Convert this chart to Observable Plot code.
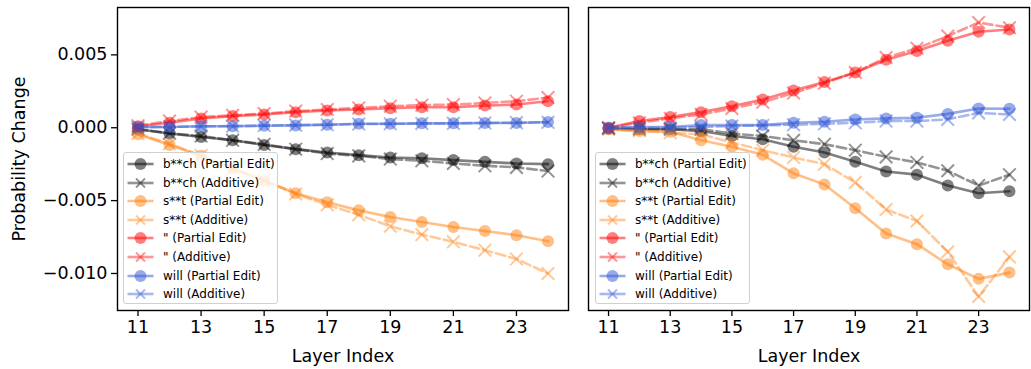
<!DOCTYPE html>
<html>
<head>
<meta charset="utf-8">
<script src="https://cdn.jsdelivr.net/npm/d3@7"></script>
<script src="https://cdn.jsdelivr.net/npm/@observablehq/plot@0.6"></script>
<style>
  html, body { margin: 0; padding: 0; background: #fff; }
  #wrap { position: relative; width: 1031px; height: 369px; font-family: "DejaVu Sans", sans-serif; }
  #wrap svg { overflow: visible; }
  .panel { position: absolute; top: 0; }
  .legend { position: absolute; top: 152px; width: 155px; height: 152px; box-sizing: border-box;
            border: 1px solid #d0d0d0; border-radius: 3px; background: rgba(255,255,255,0.8); }
  .legend .row { position: absolute; left: 0; height: 18px; width: 100%; }
  .legend .row svg { position: absolute; left: 0; top: 0; }
  .legend .row span { position: absolute; left: 39px; top: 1px; font-size: 12px; line-height: 16px; color: #000; white-space: nowrap; }
</style>
</head>
<body>
<div id="wrap"></div>
<script>
// ---------- data ----------
const layers = [11, 12, 13, 14, 15, 16, 17, 18, 19, 20, 21, 22, 23, 24];
const tokens = ["b**ch", "s**t", "\"", "will"];
const methods = ["Partial Edit", "Additive"];
const tokenColors = ["#000000", "#ff7f0e", "#ff0000", "#2f55d4"];
const xTicks = [11, 13, 15, 17, 19, 21, 23];
const yTicks = [-0.010, -0.005, 0.000, 0.005];

// Left panel
const leftBitchPartial   = [-0.0001, -0.0004, -0.00063, -0.00086, -0.00118, -0.00147, -0.0017, -0.00188, -0.00204, -0.00209, -0.00222, -0.00234, -0.00245, -0.0025];
const leftBitchAdditive  = [-0.0001, -0.00038, -0.00057, -0.00086, -0.00114, -0.00147, -0.00177, -0.00193, -0.00215, -0.00227, -0.00245, -0.00261, -0.00272, -0.00297];
const leftShitPartial    = [-0.00045, -0.00118, -0.00193, -0.0028, -0.00364, -0.0045, -0.00511, -0.00567, -0.00613, -0.00647, -0.00681, -0.00708, -0.00738, -0.00779];
const leftShitAdditive   = [-0.0004, -0.0011, -0.0019, -0.0028, -0.0036, -0.00454, -0.00529, -0.00597, -0.00676, -0.00733, -0.00783, -0.0084, -0.00901, -0.01];
const leftQuotePartial   = [0.0001, 0.00034, 0.00064, 0.0008, 0.00091, 0.00107, 0.00118, 0.00125, 0.00134, 0.00141, 0.00141, 0.00152, 0.00159, 0.00182];
const leftQuoteAdditive  = [0.00014, 0.00046, 0.00073, 0.00085, 0.00097, 0.00114, 0.00125, 0.00136, 0.00148, 0.00155, 0.00159, 0.0017, 0.00182, 0.00207];
const leftWillPartial    = [0.00005, 0.00005, 0.0001, 0.0001, 0.00014, 0.00016, 0.0002, 0.00027, 0.00027, 0.0003, 0.0003, 0.00032, 0.00032, 0.00039];
const leftWillAdditive   = [0.00003, 0.00006, 0.00009, 0.00011, 0.00015, 0.00018, 0.00021, 0.00025, 0.00027, 0.00029, 0.0003, 0.00033, 0.00035, 0.00037];

// Right panel
const rightBitchPartial  = [-0.00007, -0.0001, -0.0001, -0.00023, -0.00057, -0.00079, -0.00131, -0.0017, -0.00234, -0.003, -0.00322, -0.00397, -0.0045, -0.00436];
const rightBitchAdditive = [-0.00005, -0.0001, -0.0001, -0.0001, -0.0004, -0.00057, -0.00086, -0.00113, -0.00154, -0.002, -0.00238, -0.00295, -0.00397, -0.00322];
const rightShitPartial   = [-0.0001, -0.00023, -0.00027, -0.00086, -0.00131, -0.00186, -0.00313, -0.0039, -0.00552, -0.00726, -0.00799, -0.00937, -0.01037, -0.00994];
const rightShitAdditive  = [-0.0001, -0.0002, -0.00034, -0.00045, -0.00102, -0.00154, -0.00204, -0.0025, -0.00375, -0.00561, -0.0064, -0.00851, -0.01158, -0.00886];
const rightQuotePartial  = [0.0, 0.00046, 0.00073, 0.00107, 0.00148, 0.00193, 0.00255, 0.00313, 0.00379, 0.00466, 0.00527, 0.00597, 0.00659, 0.00674];
const rightQuoteAdditive = [0.0, 0.00034, 0.00064, 0.00091, 0.00132, 0.00175, 0.00238, 0.00306, 0.00379, 0.00482, 0.00545, 0.00629, 0.00722, 0.00686];
const rightWillPartial   = [0.0, 0.00005, 0.00005, 0.00018, 0.00018, 0.00018, 0.00034, 0.00041, 0.00057, 0.00064, 0.00068, 0.00095, 0.00132, 0.0013];
const rightWillAdditive  = [0.0, 0.0, 0.0, 0.00005, 0.00012, 0.00016, 0.0002, 0.00027, 0.00034, 0.00046, 0.00046, 0.00057, 0.00102, 0.00091];

const leftSeries  = [[leftBitchPartial, leftBitchAdditive], [leftShitPartial, leftShitAdditive],
                     [leftQuotePartial, leftQuoteAdditive], [leftWillPartial, leftWillAdditive]];
const rightSeries = [[rightBitchPartial, rightBitchAdditive], [rightShitPartial, rightShitAdditive],
                     [rightQuotePartial, rightQuoteAdditive], [rightWillPartial, rightWillAdditive]];

// ---------- styles ----------
const methodOpacity = [0.5, 0.42];
const xDomain = [10.35, 24.65];
const yDomain = [-0.01254, 0.00825];
const fontStyle = { fontFamily: "DejaVu Sans, sans-serif", fontSize: "17.5px", color: "#000", background: "transparent" };

function seriesMarks(series) {
  const marks = [];
  series.forEach((pair, ti) => {
    pair.forEach((vals, mi) => {
      const rows = layers.map((l, k) => ({ layer: l, value: vals[k] }));
      const color = tokenColors[ti];
      const op = methodOpacity[mi];
      marks.push(Plot.line(rows, {
        x: "layer", y: "value", stroke: color, strokeOpacity: op, strokeWidth: 2.6,
        strokeDasharray: mi === 1 ? "9.5,4" : null
      }));
      if (mi === 0) {
        marks.push(Plot.dot(rows, { x: "layer", y: "value", r: 6, fill: color, fillOpacity: op, stroke: "none" }));
      } else {
        marks.push(Plot.dot(rows, { x: "layer", y: "value", symbol: "times", r: 5.8, stroke: color, strokeOpacity: op, strokeWidth: 2 }));
      }
    });
  });
  return marks;
}

function makePanel(series, showY, width, marginLeft) {
  return Plot.plot({
    width, height: 369,
    marginTop: 7, marginBottom: 59, marginLeft, marginRight: 2,
    style: fontStyle,
    x: { domain: xDomain },
    y: { domain: yDomain },
    marks: [
      ...seriesMarks(series),
      Plot.axisX({ ticks: xTicks, tickFormat: d => String(d), tickSize: 6, tickPadding: 4, strokeWidth: 1.3,
                   label: "Layer Index", labelAnchor: "center", labelArrow: "none", labelOffset: 51 }),
      showY
        ? Plot.axisY({ ticks: yTicks, tickFormat: d3.format(".3f"), tickSize: 6, tickPadding: 4, strokeWidth: 1.3,
                       label: "Probability Change", labelAnchor: "center", labelArrow: "none", labelOffset: 105 })
        : Plot.axisY({ ticks: [], label: null }),
      Plot.frame({ stroke: "#000", strokeWidth: 1.4 })
    ]
  });
}

const wrap = document.getElementById("wrap");
const left = makePanel(leftSeries, true, 570, 117);
left.classList.add("panel"); left.style.left = "0px";
wrap.appendChild(left);
const right = makePanel(rightSeries, false, 453, 10);
right.classList.add("panel"); right.style.left = "578px";
wrap.appendChild(right);

// ---------- legends ----------
function makeLegend(leftPx) {
  const box = document.createElement("div");
  box.className = "legend";
  box.style.left = leftPx + "px";
  let idx = 0;
  tokens.forEach((tok, ti) => {
    methods.forEach((m, mi) => {
      const row = document.createElement("div");
      row.className = "row";
      row.style.top = (2 + idx * 18.6) + "px";
      const c = tokenColors[ti], op = methodOpacity[mi];
      const marker = mi === 0
        ? `<circle cx="16.5" cy="9" r="6" fill="${c}" fill-opacity="${op}"/>`
        : `<path d="M12,4.5L21,13.5M12,13.5L21,4.5" stroke="${c}" stroke-opacity="${op}" stroke-width="2"/>`;
      row.innerHTML = `<svg width="34" height="18"><line x1="3.5" x2="29.5" y1="9" y2="9" stroke="${c}" stroke-opacity="${op}" stroke-width="2.6"/>${marker}</svg><span>${tok.replace(/"/g, "&quot;")} (${m})</span>`;
      box.appendChild(row);
      idx++;
    });
  });
  wrap.appendChild(box);
}
makeLegend(123);
makeLegend(595);
</script>
</body>
</html>
